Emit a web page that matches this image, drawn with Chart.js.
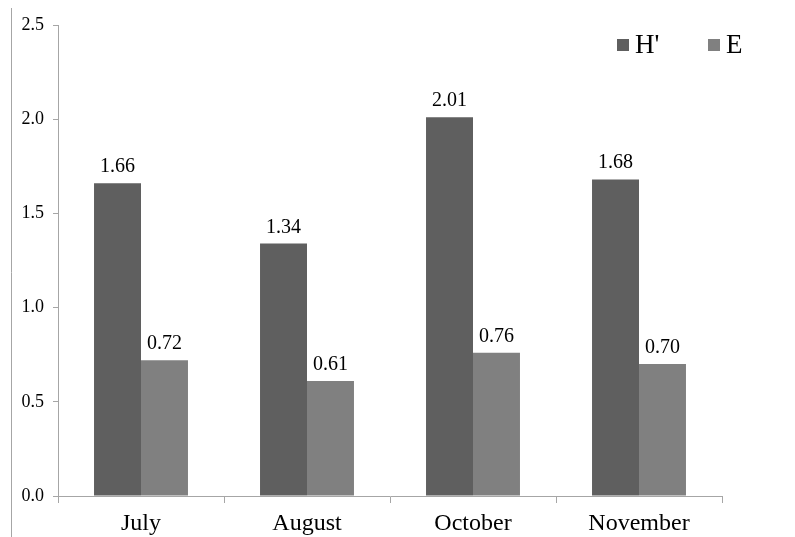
<!DOCTYPE html>
<html>
<head>
<meta charset="utf-8">
<script src="https://cdn.jsdelivr.net/npm/chart.js@4/dist/chart.umd.min.js"></script>
<style>
  html, body { margin: 0; padding: 0; background: #ffffff; }
  #wrap { width: 795px; height: 537px; position: relative; }
</style>
</head>
<body>
<div id="wrap"><canvas id="chart" width="795" height="537"></canvas></div>
<script>
// Diversity index (H') and evenness (E) by month
const months = ['July', 'August', 'October', 'November'];
const shannonH = [1.66, 1.34, 2.01, 1.68];
const evenness = [0.72, 0.61, 0.76, 0.70];
const yTicks = [0, 0.5, 1.0, 1.5, 2.0, 2.5];

const FONT = '"Liberation Serif", "Times New Roman", serif';
const AXIS_GREY = '#a6a6a6';

// Value labels above each bar
const valueLabels = {
  id: 'valueLabels',
  afterDatasetsDraw(chart) {
    const ctx = chart.ctx;
    ctx.save();
    ctx.font = '20px ' + FONT;
    ctx.fillStyle = '#000';
    ctx.textAlign = 'center';
    ctx.textBaseline = 'alphabetic';
    chart.data.datasets.forEach((ds, i) => {
      chart.getDatasetMeta(i).data.forEach((bar, j) => {
        ctx.fillText(ds.data[j].toFixed(2), bar.x, bar.y - 11);
      });
    });
    ctx.restore();
  }
};

// Legend in the upper right corner and the thin frame line on the left
const decorations = {
  id: 'decorations',
  afterDraw(chart) {
    const ctx = chart.ctx;
    ctx.save();
    ctx.strokeStyle = AXIS_GREY;
    ctx.lineWidth = 1;
    ctx.beginPath();
    ctx.moveTo(11.5, 8);
    ctx.lineTo(11.5, 537);
    ctx.stroke();

    const items = [
      { x: 617, label: "H'" },
      { x: 708, label: 'E' }
    ];
    ctx.font = '27px ' + FONT;
    ctx.textBaseline = 'alphabetic';
    ctx.textAlign = 'left';
    items.forEach((it, i) => {
      ctx.fillStyle = chart.data.datasets[i].backgroundColor;
      ctx.fillRect(it.x, 39, 12, 12);
      ctx.fillStyle = '#000';
      ctx.fillText(it.label, it.x + 18, 53);
    });
    ctx.restore();
  }
};

new Chart(document.getElementById('chart'), {
  type: 'bar',
  data: {
    labels: months,
    datasets: [
      { label: "H'", data: shannonH, backgroundColor: '#5f5f5f',
        categoryPercentage: 0.566, barPercentage: 1.0 },
      { label: 'E', data: evenness, backgroundColor: '#808080',
        categoryPercentage: 0.566, barPercentage: 1.0 }
    ]
  },
  options: {
    responsive: false,
    animation: false,
    devicePixelRatio: 1,
    layout: { padding: { top: 25, right: 73, bottom: 0, left: 0 } },
    plugins: {
      legend: { display: false },
      tooltip: { enabled: false }
    },
    scales: {
      x: {
        offset: true,
        grid: {
          offset: true,
          drawOnChartArea: false,
          drawTicks: true,
          tickLength: 7,
          color: AXIS_GREY
        },
        border: { color: AXIS_GREY, width: 1 },
        ticks: {
          color: '#000',
          font: { family: FONT, size: 24 },
          padding: 6,
          maxRotation: 0
        },
        afterFit(scale) { scale.height = 41; }
      },
      y: {
        min: 0,
        max: 2.5,
        grid: {
          drawOnChartArea: false,
          drawTicks: true,
          tickLength: 5,
          color: AXIS_GREY
        },
        border: { color: AXIS_GREY, width: 1 },
        afterBuildTicks(scale) {
          scale.ticks = yTicks.map(v => ({ value: v }));
        },
        ticks: {
          color: '#000',
          font: { family: FONT, size: 18 },
          padding: 9,
          callback: v => Number(v).toFixed(1)
        },
        afterFit(scale) { scale.width = 58; }
      }
    }
  },
  plugins: [valueLabels, decorations]
});
</script>
</body>
</html>
